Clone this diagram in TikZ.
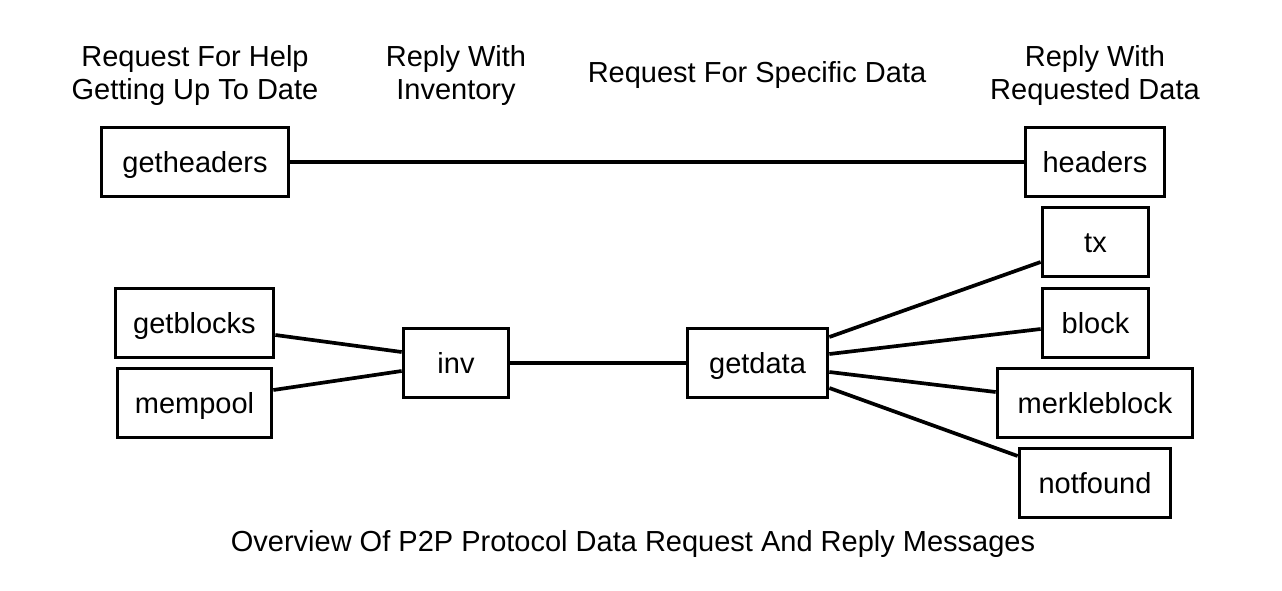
\documentclass[tikz,border=0pt]{standalone}
\usepackage{fontspec}
\setmainfont{Liberation Sans}
\begin{document}
\begin{tikzpicture}[x=1pt,y=-1pt,
  box/.style={draw,line width=3.7pt,inner sep=0pt,text height=20pt,text depth=0pt,font=\fontsize{29}{33}\selectfont},
  lbl/.style={inner sep=0pt,align=center,font=\fontsize{29}{33}\selectfont},
  conn/.style={line width=3.7pt}]
\useasboundingbox (0,0) rectangle (1282,590);
\node[lbl] (l1) at (195,75) {Request For Help\\Getting Up To Date};
\node[lbl] (l2) at (456,75) {Reply With\\Inventory};
\node[lbl] (l3) at (757,75) {Request For Specific Data};
\node[lbl] (l4) at (1095,75) {Reply With\\Requested Data};
\node[lbl] (cap) at (633,544) {Overview Of P2P Protocol Data Request And Reply Messages};
\node[box,minimum width=187pt,minimum height=69pt] (gh) at (195,162) {getheaders};
\node[box,minimum width=139pt,minimum height=69pt] (h) at (1095,162) {headers};
\node[box,minimum width=106pt,minimum height=69pt] (tx) at (1095.5,242) {tx};
\node[box,minimum width=106pt,minimum height=69pt] (blk) at (1095.5,323) {block};
\node[box,minimum width=195pt,minimum height=69pt] (mb) at (1095,403) {merkleblock};
\node[box,minimum width=151pt,minimum height=69pt] (nf) at (1095,483) {notfound};
\node[box,minimum width=158pt,minimum height=69pt] (gb) at (194.5,323) {getblocks};
\node[box,minimum width=154pt,minimum height=69pt] (mp) at (194.5,403) {mempool};
\node[box,minimum width=105pt,minimum height=69pt] (inv) at (456,363) {inv};
\node[box,minimum width=140pt,minimum height=69pt] (gd) at (757.5,363) {getdata};
\draw[conn] (gh.east) -- (h.west);
\draw[conn] ([yshift=-12pt]gb.east) -- ([yshift=11pt]inv.west);
\draw[conn] ([yshift=13pt]mp.east) -- ([yshift=-8pt]inv.west);
\draw[conn] (inv.east) -- (gd.west);
\draw[conn] ([yshift=26pt]gd.east) -- ([yshift=-20pt]tx.west);
\draw[conn] ([yshift=9pt]gd.east) -- ([yshift=-6pt]blk.west);
\draw[conn] ([yshift=-9pt]gd.east) -- ([yshift=11pt]mb.west);
\draw[conn] ([yshift=-25pt]gd.east) -- ([yshift=27pt]nf.west);
\end{tikzpicture}
\end{document}
